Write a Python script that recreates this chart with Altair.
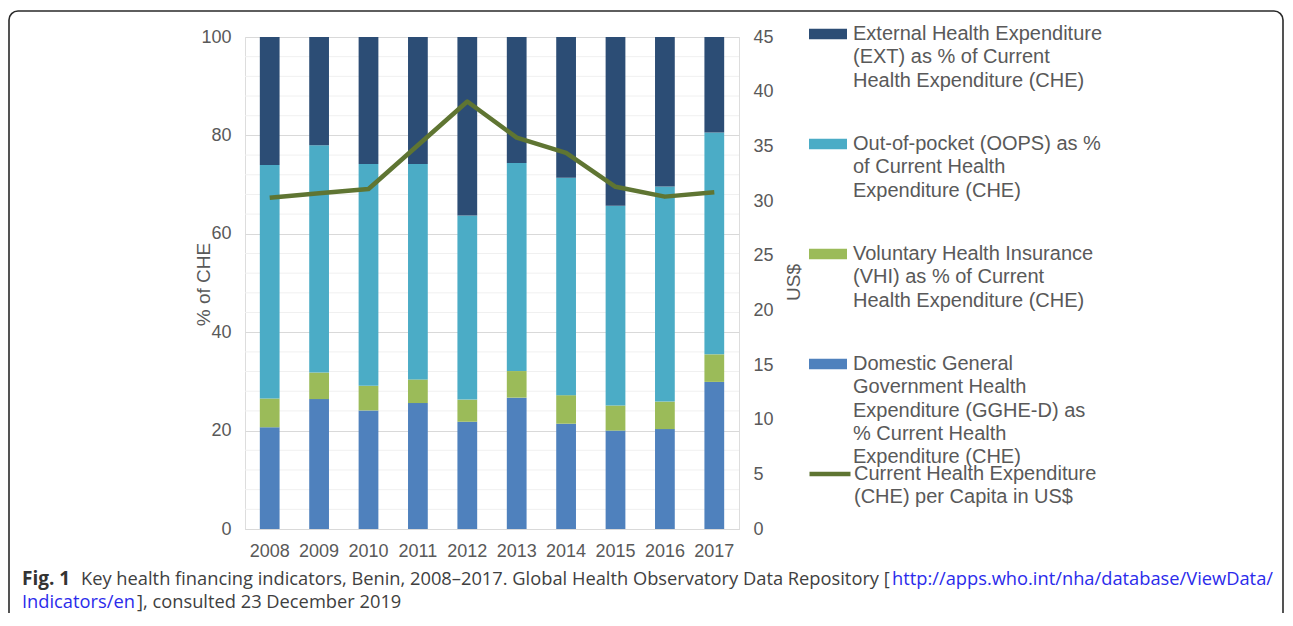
import altair as alt
import pandas as pd

# ---------------- data ----------------
years = ["2008", "2009", "2010", "2011", "2012", "2013", "2014", "2015", "2016", "2017"]
gghe_d = [20.7, 26.4, 24.1, 25.6, 21.8, 26.7, 21.4, 20.0, 20.3, 29.9]
vhi = [5.8, 5.4, 5.0, 4.8, 4.5, 5.4, 5.8, 5.1, 5.6, 5.6]
oops = [47.5, 46.2, 45.1, 43.8, 37.4, 42.3, 44.2, 40.6, 43.7, 45.1]
ext = [26.0, 22.0, 25.8, 25.8, 36.3, 25.6, 28.6, 34.3, 30.4, 19.4]
che_per_capita = [30.3, 30.7, 31.1, 35.1, 39.1, 35.8, 34.4, 31.3, 30.4, 30.8]

series_keys = ["EXT", "OOPS", "VHI", "GGHE-D"]          # legend order (top to bottom)
stack_order = {"GGHE-D": 1, "VHI": 2, "OOPS": 3, "EXT": 4}  # bottom to top
series_colors = ["#2C4D75", "#4BACC6", "#9BBB59", "#4F81BD"]
legend_lines = {
    "EXT": ["External Health Expenditure", "(EXT) as % of Current", "Health Expenditure (CHE)"],
    "OOPS": ["Out-of-pocket (OOPS) as %", "of Current Health", "Expenditure (CHE)"],
    "VHI": ["Voluntary Health Insurance", "(VHI) as % of Current", "Health Expenditure (CHE)"],
    "GGHE-D": ["Domestic General", "Government Health", "Expenditure (GGHE-D) as",
               "% Current Health", "Expenditure (CHE)"],
}
line_key = "CHE"
line_legend_lines = ["Current Health Expenditure", "(CHE) per Capita in US$"]

left_ticks = [0, 20, 40, 60, 80, 100]
minor_grid = [4, 8, 12, 16, 24, 28, 32, 36, 44, 48, 52, 56, 64, 68, 72, 76, 84, 88, 92, 96]
right_ticks = [0, 5, 10, 15, 20, 25, 30, 35, 40, 45]

caption_bold = "Fig. 1"
caption_text = "Key health financing indicators, Benin, 2008–2017. Global Health Observatory Data Repository ["
caption_link1 = "http://apps.who.int/nha/database/ViewData/"
caption_link2 = "Indicators/en"
caption_tail = " ], consulted 23 December 2019"

# ---------------- tables ----------------
values_by_series = {"GGHE-D": gghe_d, "VHI": vhi, "OOPS": oops, "EXT": ext}
rows = []
for s, vals in values_by_series.items():
    for y, v in zip(years, vals):
        rows.append({"year": y, "series": s, "value": v, "ord": stack_order[s]})
bar_df = pd.DataFrame(rows)
line_df = pd.DataFrame({"year": years, "che": che_per_capita, "key": [line_key] * len(years)})
minor_df = pd.DataFrame({"v": minor_grid})
dummy = pd.DataFrame({"a": [0]})


def arr(lines):
    return "[" + ", ".join("'" + l + "'" for l in lines) + "]"


label_expr = " : ".join(
    f"datum.label == '{k}' ? {arr(v)}" for k, v in legend_lines.items()
) + " : datum.label"
line_label_expr = f"datum.label == '{line_key}' ? {arr(line_legend_lines)} : datum.label"

GRAY = "#595959"
FONT = "Liberation Sans"
AX_FS = 18
LEG_FS = 20

x_enc = alt.X(
    "year:O",
    scale=alt.Scale(paddingInner=0.6, paddingOuter=0.3),
    axis=alt.Axis(title=None, labelAngle=0, ticks=False, domainColor="#D9D9D9",
                  domainWidth=1.2, labelFont=FONT, labelFontSize=AX_FS, labelColor=GRAY,
                  labelPadding=13, grid=False),
)

minor = alt.Chart(minor_df).mark_rule(color="#F0F0F0", strokeWidth=1).encode(
    y=alt.Y("v:Q", scale=alt.Scale(domain=[0, 100], nice=False), axis=None)
)

bars = alt.Chart(bar_df).mark_bar().encode(
    x=x_enc,
    y=alt.Y("value:Q", stack="zero",
            scale=alt.Scale(domain=[0, 100], nice=False),
            axis=alt.Axis(orient="left", values=left_ticks, title="% of CHE", grid=True,
                          gridColor="#D9D9D9", gridWidth=1.2, domain=False, ticks=False,
                          labelFont=FONT, labelFontSize=AX_FS, labelColor=GRAY, labelPadding=14,
                          titleFont=FONT, titleFontSize=19, titleFontWeight="normal",
                          titleColor=GRAY, titleAngle=270, titleX=-42, titleY=247,
                          titleAlign="center", titleBaseline="middle")),
    color=alt.Color("series:N",
                    scale=alt.Scale(domain=series_keys, range=series_colors),
                    legend=alt.Legend(orient="none", legendX=564, legendY=-22, title=None,
                                      symbolType="M-1,-0.28H1V0.28H-1Z", symbolSize=1444,
                                      symbolStrokeWidth=0, labelExpr=label_expr,
                                      labelFont=FONT, labelFontSize=LEG_FS, labelColor=GRAY,
                                      labelLimit=400, labelOffset=6, rowPadding=34,
                                      padding=0)),
    order=alt.Order("ord:Q", sort="ascending"),
)

line = alt.Chart(line_df).mark_line(strokeWidth=4.5, strokeJoin="round").encode(
    x=alt.X("year:O"),
    y=alt.Y("che:Q", scale=alt.Scale(domain=[0, 45], nice=False),
            axis=alt.Axis(orient="right", values=right_ticks, title="US$", grid=False,
                          domain=False, ticks=False, labelFont=FONT, labelFontSize=AX_FS,
                          labelColor=GRAY, labelPadding=14, titleFont=FONT, titleFontSize=19,
                          titleFontWeight="normal", titleColor=GRAY, titleAngle=270,
                          titleX=54, titleY=245, titleAlign="center",
                          titleBaseline="middle")),
    stroke=alt.Stroke("key:N", scale=alt.Scale(domain=[line_key], range=["#5F7532"]),
                      legend=alt.Legend(orient="none", legendX=562, legendY=414, title=None,
                                        symbolType="stroke", symbolSize=1681,
                                        symbolStrokeWidth=4.5, labelExpr=line_label_expr,
                                        labelFont=FONT, labelFontSize=LEG_FS, labelColor=GRAY,
                                        labelLimit=400, labelOffset=1, padding=0)),
)

frame = alt.Chart(dummy).mark_rect(
    fillOpacity=0, stroke="#2a2a2a", strokeWidth=1.6, cornerRadius=9
).encode(x=alt.value(-236), x2=alt.value(1038), y=alt.value(-26), y2=alt.value(640))

CAP_FONT = "Open Sans"
CAP_FS = 18.3
cap1 = alt.Chart(dummy).mark_text(
    text=caption_bold, font=CAP_FONT, fontSize=19, fontWeight="bold", color="#333333",
    align="left", baseline="alphabetic"
).encode(x=alt.value(-223), y=alt.value(548))
cap2 = alt.Chart(dummy).mark_text(
    text=caption_text, font=CAP_FONT, fontSize=CAP_FS, color="#404040",
    align="left", baseline="alphabetic"
).encode(x=alt.value(-164), y=alt.value(548))
cap3 = alt.Chart(dummy).mark_text(
    text=caption_link1, font=CAP_FONT, fontSize=CAP_FS, color="#2B2BEB",
    align="right", baseline="alphabetic"
).encode(x=alt.value(1028), y=alt.value(548))
cap4 = alt.Chart(dummy).mark_text(
    text=caption_link2, font=CAP_FONT, fontSize=CAP_FS, color="#2B2BEB",
    align="left", baseline="alphabetic"
).encode(x=alt.value(-223), y=alt.value(571))
cap5 = alt.Chart(dummy).mark_text(
    text=caption_tail, font=CAP_FONT, fontSize=CAP_FS, color="#404040",
    align="left", baseline="alphabetic"
).encode(x=alt.value(-108), y=alt.value(571))

chart = alt.layer(
    frame, minor, bars, line, cap1, cap2, cap3, cap4, cap5
).resolve_scale(
    y="independent"
).properties(
    width=494, height=492,
    padding={"left": 237, "top": 29, "right": 546, "bottom": 84},
    autosize=alt.AutoSizeParams(type="none"),
).configure_view(stroke=None).configure(
    style={"guide-label": {"lineHeight": 23.3}}
)

chart.save("out.html", embed_options={"renderer": "svg", "actions": False})
